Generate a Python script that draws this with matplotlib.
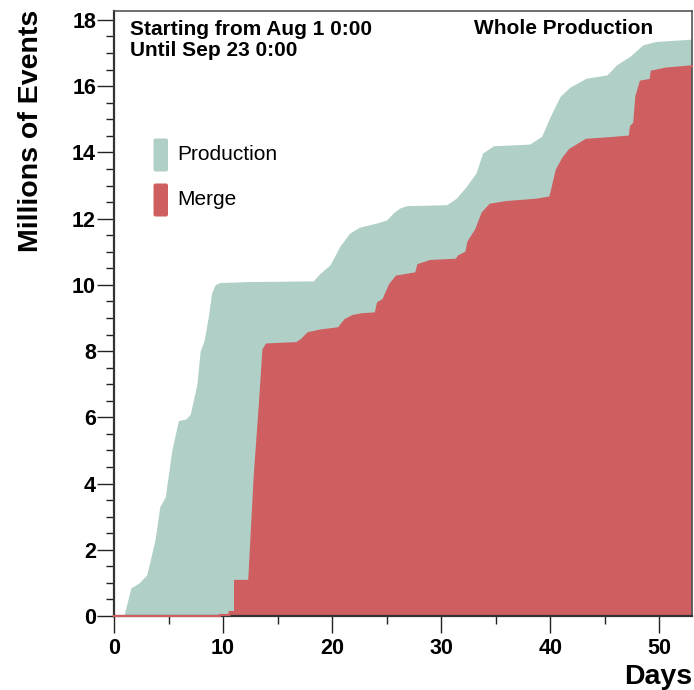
import matplotlib
matplotlib.use("Agg")
import matplotlib.pyplot as plt
from matplotlib.patches import FancyBboxPatch
from matplotlib.ticker import MultipleLocator

# ---- data (days since Aug 1, millions of events) ----
prod_days = [0, 0.9, 1.55, 2.3, 3.0, 3.76, 4.2, 4.7, 5.3, 5.9, 6.6, 7.0, 7.6, 7.9, 8.25,
             8.65, 8.95, 9.26, 9.7, 12.5, 18.27, 18.9, 19.8, 20.7, 21.6, 22.5, 24.1, 25.0,
             25.6, 26.2, 26.8, 30.5, 31.4, 32.3, 33.2, 33.8, 34.8, 38.1, 39.2, 40.0, 40.9,
             41.8, 43.3, 45.2, 46.1, 47.3, 48.5, 49.7, 53.0]
prod_events = [0, 0, 0.85, 1.0, 1.24, 2.3, 3.3, 3.6, 5.0, 5.9, 5.95, 6.1, 7.0, 8.0, 8.3,
               9.04, 9.75, 10.0, 10.07, 10.1, 10.12, 10.35, 10.6, 11.16, 11.56, 11.74, 11.87, 11.96,
               12.17, 12.32, 12.39, 12.42, 12.62, 12.97, 13.38, 13.98, 14.2, 14.25, 14.48, 15.08, 15.69,
               15.97, 16.24, 16.34, 16.65, 16.9, 17.25, 17.35, 17.42]

merge_days = [0, 9.7, 9.7, 10.6, 10.6, 11.1, 11.1, 12.4, 12.9, 13.4, 13.7, 14.0, 16.75, 17.2,
              17.8, 18.9, 20.6, 21.2, 21.9, 22.7, 24.0, 24.2, 24.7, 25.3, 25.9, 27.7, 27.9,
              29.0, 31.4, 31.6, 32.3, 32.5, 33.2, 33.8, 34.5, 36.0, 38.7, 40.0, 40.1, 40.6,
              41.2, 41.8, 43.3, 45.5, 47.3, 47.4, 47.7, 47.9, 48.3, 49.2, 49.3, 50.6, 53.0]
merge_events = [0, 0, 0.03, 0.03, 0.12, 0.12, 1.06, 1.06, 4.2, 6.5, 8.04, 8.2, 8.24, 8.34,
                8.54, 8.62, 8.69, 8.94, 9.06, 9.11, 9.14, 9.45, 9.55, 10.0, 10.25, 10.35, 10.6,
                10.72, 10.76, 10.86, 10.98, 11.3, 11.66, 12.17, 12.42, 12.5, 12.57, 12.64, 12.77, 13.47,
                13.83, 14.08, 14.38, 14.43, 14.48, 14.78, 14.88, 15.69, 16.14, 16.19, 16.44, 16.53, 16.6]

series_labels = ["Production", "Merge"]
GREEN = "#b0cfc7"
RED = "#ce5e60"

W, H = 694, 690
PT = 0.72  # points per pixel at 100 dpi
fig = plt.figure(figsize=(W / 100, H / 100), dpi=100)
ax = fig.add_axes([114 / W, 1 - 616 / H, (692 - 114) / W, (616 - 11) / H])

ax.fill_between(prod_days, 0, prod_events, color=GREEN, lw=0)
ax.fill_between(merge_days, 0, merge_events, color=RED, lw=0)
ax.plot(merge_days, merge_events, color=RED, lw=1.5, solid_joinstyle="miter",
        zorder=3, clip_on=False)

ax.set_xlim(0, 53.0)
ax.set_ylim(0, 18.27)

FONT = "Liberation Sans"
ax.xaxis.set_major_locator(MultipleLocator(10))
ax.xaxis.set_minor_locator(MultipleLocator(5))
ax.yaxis.set_major_locator(MultipleLocator(2))
ax.yaxis.set_minor_locator(MultipleLocator(0.5))
ax.tick_params(which="both", direction="out", top=False, right=False, color="#222222", width=1.0)
ax.tick_params(which="major", length=17 * PT)
ax.tick_params(which="minor", length=8 * PT)
ax.tick_params(axis="y", which="major", pad=1 * PT)
ax.tick_params(axis="x", which="major", pad=5 * PT)
for lab in ax.get_xticklabels() + ax.get_yticklabels():
    lab.set_fontfamily(FONT)
    lab.set_fontweight("bold")
    lab.set_fontsize(15.5)

for s in ["left", "bottom"]:
    ax.spines[s].set_color("#333333")
    ax.spines[s].set_linewidth(1.6)
for s in ["top", "right"]:
    ax.spines[s].set_color("#555555")
    ax.spines[s].set_linewidth(1.2)

# Axis titles
fig.text(31 / W, 1 - 10 / H, "Millions of Events", rotation=90, ha="center", va="top",
         fontfamily=FONT, fontweight="bold", fontsize=20.5)
fig.text(692 / W, 1 - 684 / H, "Days", ha="right", va="baseline",
         fontfamily=FONT, fontweight="bold", fontsize=20.5)

# Info texts
fig.text(129.5 / W, 1 - 35 / H, "Starting from Aug 1 0:00", ha="left", va="baseline",
         fontfamily=FONT, fontweight="bold", fontsize=15)
fig.text(129.5 / W, 1 - 56 / H, "Until Sep 23 0:00", ha="left", va="baseline",
         fontfamily=FONT, fontweight="bold", fontsize=15)
fig.text(653.5 / W, 1 - 34 / H, "Whole Production", ha="right", va="baseline",
         fontfamily=FONT, fontweight="bold", fontsize=15)

# Legend
for label, color, cy in [(series_labels[0], GREEN, 155), (series_labels[1], RED, 200)]:
    box = FancyBboxPatch((153.5 / W, 1 - (cy + 16.5) / H), 14.5 / W, 33 / H,
                         boxstyle="round,pad=0,rounding_size=0.003",
                         transform=fig.transFigure, facecolor=color, edgecolor="none")
    fig.patches.append(box)
    fig.text(177 / W, 1 - cy / H, label, ha="left", va="center",
             fontfamily=FONT, fontsize=15)

fig.savefig("out.png", dpi=100)
